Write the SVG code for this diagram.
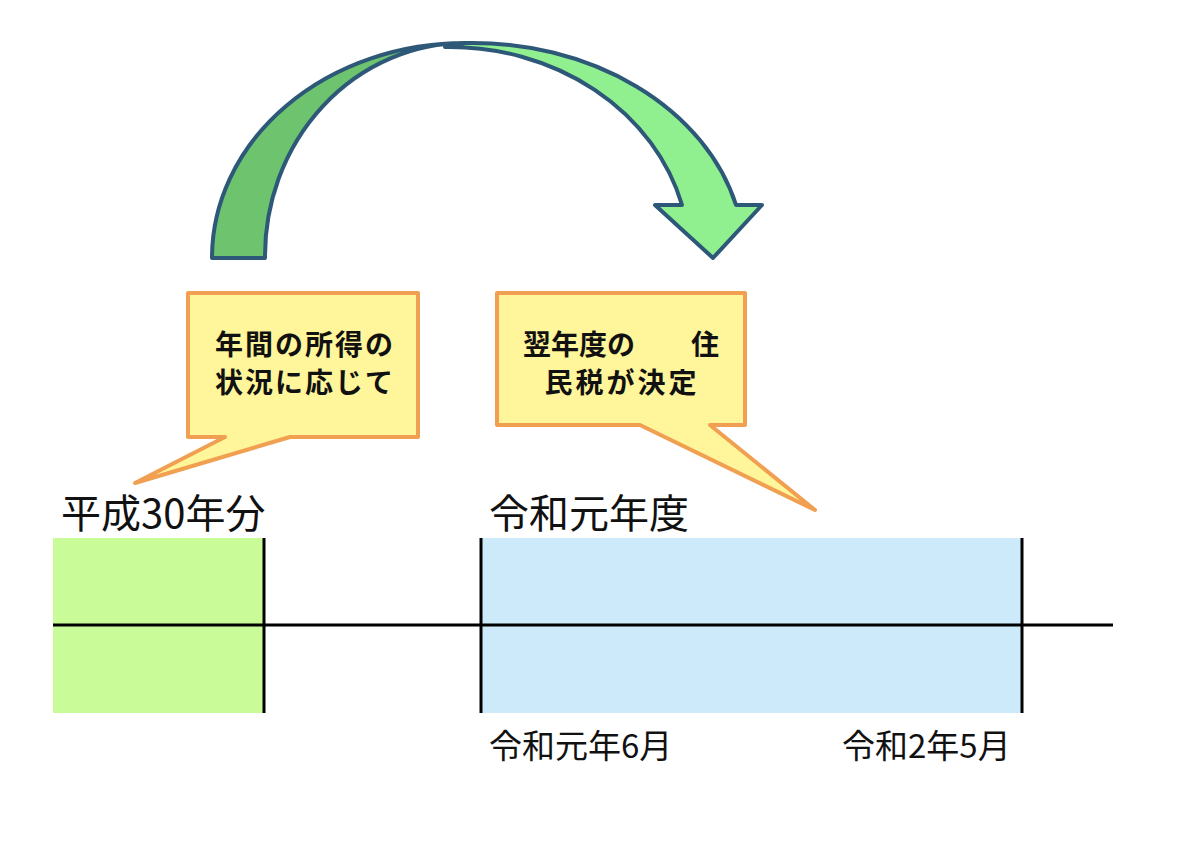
<svg xmlns="http://www.w3.org/2000/svg" width="1200" height="850" viewBox="0 0 1200 850">
<style>
.t{font-family:"Noto Sans CJK JP","Noto Sans CJK SC",sans-serif;fill:#111}
.cb{font-size:28px;font-weight:bold;text-anchor:middle}
.lb{font-size:40px}
.sm{font-size:33px}
.callout{fill:#fff59a;stroke:#f0a050;stroke-width:4;stroke-linejoin:round}
.arw{stroke:#2e5878;stroke-width:4;stroke-linejoin:round}
.ln{stroke:#000;stroke-width:3}
</style>
<rect width="1200" height="850" fill="#fff"/>
<g id="arrow">
<path class="arw" fill="#6ec46e" d="M212,258 A253,215 0 0 1 465,43 A200,213 0 0 0 265,258 Z"/>
<path class="arw" fill="#90f090" d="M465,43 A272,215 0 0 1 736,205 L762,205 L713,258 L655,205 L682,205 A240,211 0 0 0 445,47 Z"/>
</g>
<g id="callout1">
<path class="callout" d="M188,293 H418 V437 H290 L135,483 L225,437 H188 Z"/>
<text class="t cb" x="305" y="355" letter-spacing="2">年間の所得の</text>
<text class="t cb" x="305" y="393" letter-spacing="2">状況に応じて</text>
</g>
<g id="callout2">
<path class="callout" d="M497,293 H745 V425 H710 L815,510 L640,425 H497 Z"/>
<text class="t cb" x="621" y="355">翌年度の　　住</text>
<text class="t cb" x="622" y="393" letter-spacing="3">民税が決定</text>
</g>
<g id="timeline">
<rect x="53" y="538" width="211" height="175" fill="#c9fc98"/>
<rect x="481" y="538" width="541" height="175" fill="#cdeafa"/>
<line class="ln" x1="53" y1="625" x2="1113" y2="625"/>
<line class="ln" x1="264" y1="538" x2="264" y2="713"/>
<line class="ln" x1="481" y1="538" x2="481" y2="713"/>
<line class="ln" x1="1022" y1="538" x2="1022" y2="713"/>
</g>
<g id="labels">
<text class="t lb" x="61" y="528">平成30年分</text>
<text class="t lb" x="489" y="528">令和元年度</text>
<text class="t sm" x="489" y="758">令和元年6月</text>
<text class="t sm" x="842" y="758">令和2年5月</text>
</g>
</svg>
